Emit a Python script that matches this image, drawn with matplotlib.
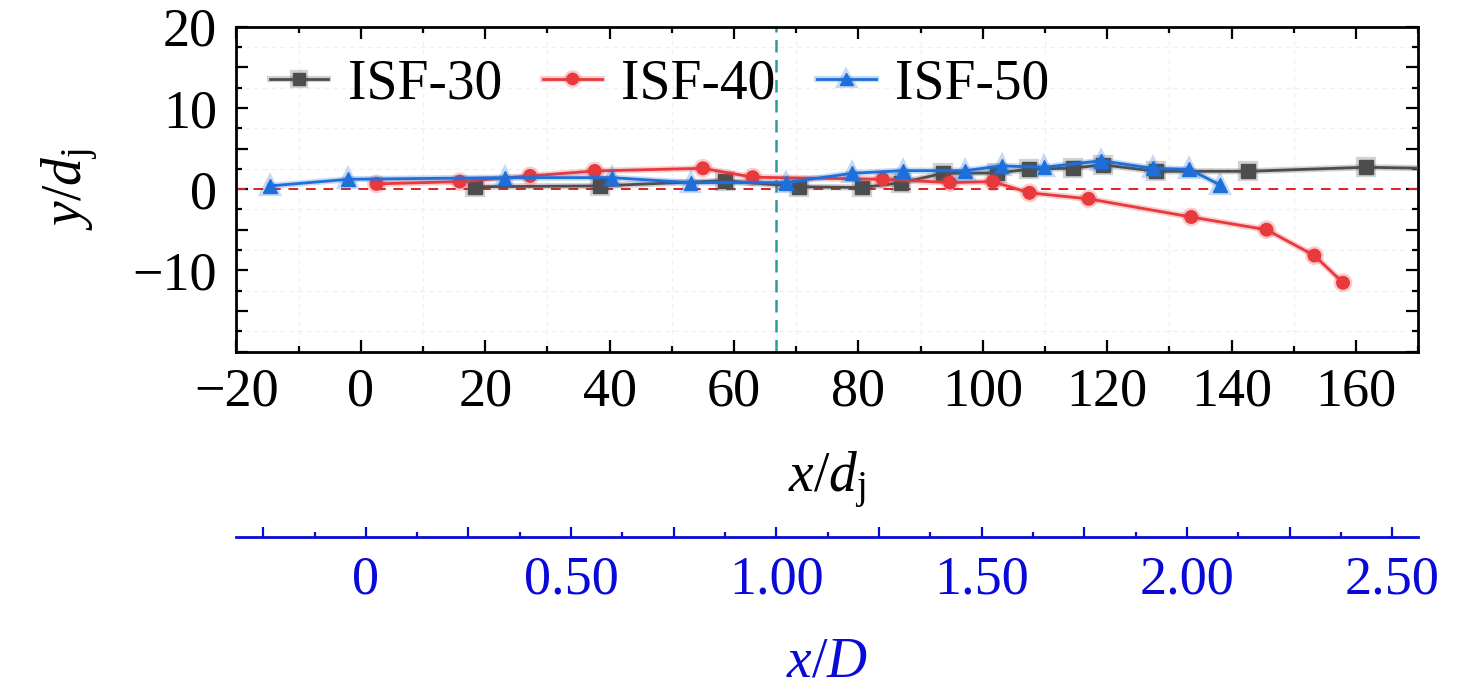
import numpy as np
import matplotlib
matplotlib.use("Agg")
import matplotlib.pyplot as plt
import matplotlib.patheffects as pe
from matplotlib.ticker import MultipleLocator, FuncFormatter

plt.rcParams['font.family'] = ['Liberation Serif', 'DejaVu Serif']
plt.rcParams['mathtext.fontset'] = 'custom'
plt.rcParams['mathtext.rm'] = 'Liberation Serif'
plt.rcParams['mathtext.it'] = 'Liberation Serif:italic'

# ---- data ----
isf30_x = [18.3, 38.4, 58.5, 70.4, 80.6, 86.9, 93.6, 102.3, 107.4, 114.5, 119.3, 127.9, 142.6, 161.6, 176.0]
isf30_y = [0.3, 0.4, 1.05, 0.3, 0.2, 0.8, 1.95, 2.0, 2.45, 2.6, 3.0, 2.2, 2.2, 2.7, 2.5]

isf40_x = [2.5, 15.9, 27.2, 37.6, 55.0, 63.0, 83.9, 94.7, 101.6, 107.5, 117.0, 133.5, 145.6, 153.3, 157.9]
isf40_y = [0.65, 0.93, 1.63, 2.24, 2.57, 1.47, 1.22, 0.81, 0.93, -0.45, -1.19, -3.43, -4.99, -8.17, -11.52]

isf50_x = [-14.6, -2.0, 23.1, 40.3, 53.0, 68.4, 79.0, 87.2, 97.1, 103.0, 109.9, 119.0, 127.3, 133.2, 138.1]
isf50_y = [0.4, 1.22, 1.42, 1.42, 0.81, 0.81, 1.96, 2.28, 2.28, 2.86, 2.7, 3.5, 2.57, 2.45, 0.53]

labels = ['ISF-30', 'ISF-40', 'ISF-50']
D_ratio = 66.0      # D / d_j
x_offset = 0.8      # x/d_j where x/D = 0
ref_xD = 1.0        # vertical reference line at x/D = 1

# ---- figure ----
fig = plt.figure(figsize=(14.76, 6.95), dpi=100)
ax = fig.add_axes([0.1602, 0.494, 0.8007, 0.4676])

c30, c40, c50 = '#4d4d4d', '#e8393c', '#1e6fd9'

def halo(c):
    return [pe.Stroke(linewidth=4.5, foreground=c, alpha=0.25), pe.Normal()]

ax.plot(isf30_x, isf30_y, '-s', color=c30, lw=2.0, ms=10, label=labels[0], path_effects=halo(c30), zorder=3)
ax.plot(isf40_x, isf40_y, '-o', color=c40, lw=2.0, ms=9, label=labels[1], path_effects=halo(c40), zorder=4)
ax.plot(isf50_x, isf50_y, '-^', color=c50, lw=2.0, ms=10, label=labels[2], path_effects=halo(c50), zorder=5)

ax.axhline(0, color='#e02020', ls=(0, (5, 4)), lw=1.4, zorder=2)
ax.axvline(ref_xD * D_ratio + x_offset, color='#2f9a9a', ls=(0, (5, 3)), lw=1.8, zorder=2)

ax.set_xlim(-20, 170)
ax.set_ylim(-20, 20)

ax.xaxis.set_major_locator(MultipleLocator(20))
ax.xaxis.set_minor_locator(MultipleLocator(10))
ax.yaxis.set_major_locator(MultipleLocator(5))
ax.yaxis.set_minor_locator(MultipleLocator(2.5))

def yfmt(v, p):
    iv = int(round(v))
    if abs(v - iv) < 1e-6 and iv % 10 == 0 and iv > -15:
        return '\u2212%d' % abs(iv) if iv < 0 else '%d' % iv
    return ''
ax.yaxis.set_major_formatter(FuncFormatter(yfmt))

ax.grid(which='minor', color='#f0f0f0', ls=(0, (4, 3)), lw=0.9, zorder=0)
ax.grid(which='major', visible=False)

ax.tick_params(which='both', direction='in', top=True, right=True, width=1.6, labelsize=39, colors='black')
ax.tick_params(which='major', length=8.5)
ax.tick_params(which='minor', length=4.2)
ax.tick_params(axis='x', pad=11)
ax.tick_params(axis='y', pad=14)
for s in ax.spines.values():
    s.set_linewidth(2.0)

ax.set_xlabel(r'$x/d_\mathrm{j}$', fontsize=40)
ax.set_ylabel(r'$y/d_\mathrm{j}$', fontsize=40)
ax.xaxis.set_label_coords(0.5, -0.30)
ax.yaxis.set_label_coords(-0.115, 0.5)

leg = ax.legend(loc='upper left', bbox_to_anchor=(0.0, 1.005), ncol=3, frameon=False,
                fontsize=40, handlelength=1.05, handletextpad=0.35, columnspacing=0.75,
                borderaxespad=0.2, markerscale=0.9)

# ---- secondary x axis (x/D) ----
blue = '#0a0ad8'
sec = ax.secondary_xaxis(-0.569, functions=(lambda x: (x - x_offset) / D_ratio,
                                             lambda u: u * D_ratio + x_offset))
sec.xaxis.set_major_locator(MultipleLocator(0.25))
sec.xaxis.set_minor_locator(MultipleLocator(0.125))

def dfmt(v, p):
    k = v / 0.5
    if abs(k - round(k)) < 1e-6:
        return '0' if abs(v) < 1e-9 else '%.2f' % v
    return ''
sec.xaxis.set_major_formatter(FuncFormatter(dfmt))
sec.tick_params(which='both', direction='in', colors=blue, width=1.6, labelsize=39, pad=13)
sec.tick_params(which='major', length=7.5)
sec.tick_params(which='minor', length=3.5)
sec.spines['bottom'].set_color(blue)
sec.spines['bottom'].set_linewidth(2.0)
sec.set_xlabel(r'$x/D$', fontsize=40, color=blue)
sec.xaxis.set_label_coords(0.5, -0.875, transform=ax.transAxes)

fig.savefig('out.png', dpi=100)
